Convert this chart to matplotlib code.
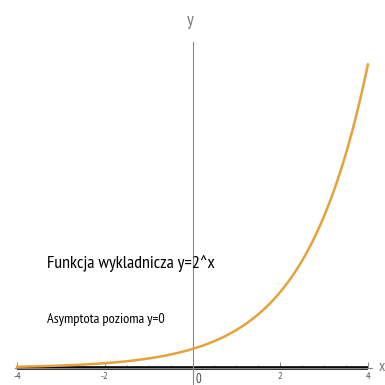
import numpy as np
import matplotlib
matplotlib.use("Agg")
import matplotlib.pyplot as plt

# Data
base = 2
x_min, x_max = -4, 4
major_ticks = [-4, -2, 2, 4]
minor_ticks = [-3.5, -3, -2.5, -1.5, -1, -0.5, 0.5, 1, 1.5, 2.5, 3, 3.5]
title_text = "Funkcja wykladnicza y=2^x"
asym_text = "Asymptota pozioma y=0"

narrow = ["PT Sans Narrow", "Roboto Condensed", "DejaVu Sans"]

fig = plt.figure(figsize=(3.85, 3.85), dpi=100)
ax = fig.add_axes([0, 0, 1, 1])
ax.set_xlim(-4.39, 4.39)
ax.set_ylim(-0.9, 19.4)

xs = np.linspace(x_min, x_max, 400)
ys = base ** xs

# Horizontal asymptote drawn as a heavy line along y=0
ax.plot([x_min, x_max], [0, 0], color="black", lw=2.6, zorder=2, solid_capstyle="butt")
ax.plot(xs, ys, color="#e6a23a", lw=1.8, zorder=3)

# Axes through the origin
for s in ["top", "right"]:
    ax.spines[s].set_visible(False)
ax.spines["bottom"].set_position(("data", 0))
ax.spines["left"].set_position(("data", 0))
ax.spines["bottom"].set_color("#888888")
ax.spines["left"].set_color("#888888")
ax.spines["bottom"].set_linewidth(0.8)
ax.spines["left"].set_linewidth(0.8)
ax.spines["bottom"].set_bounds(-4.05, 4.1)
ax.spines["left"].set_bounds(-0.9, 17.2)

ax.set_xticks(major_ticks)
ax.set_xticklabels([str(t) for t in major_ticks], fontsize=7.5, color="#555555", family=narrow)
ax.set_xticks(minor_ticks, minor=True)
ax.tick_params(axis="x", which="major", direction="in", length=4, width=0.7, color="#888888", pad=3)
ax.tick_params(axis="x", which="minor", direction="in", length=2.5, width=0.6, color="#888888")
ax.set_yticks([])

ax.text(0.13, -0.25, "0", fontsize=9, color="#444444", family=narrow, ha="center", va="top")
ax.text(4.31, 0.05, "x", fontsize=11, color="#777777", family=narrow, ha="center", va="center")
ax.text(-0.06, 18.3, "y", fontsize=13, color="#777777", family=narrow, ha="center", va="center")

ax.text(-3.31, 5.5, title_text, fontsize=13, color="black", family=narrow, ha="left", va="center")
ax.text(-3.31, 2.55, asym_text, fontsize=10.3, color="black", family=narrow, ha="left", va="center")

fig.savefig("out.png", dpi=100)
